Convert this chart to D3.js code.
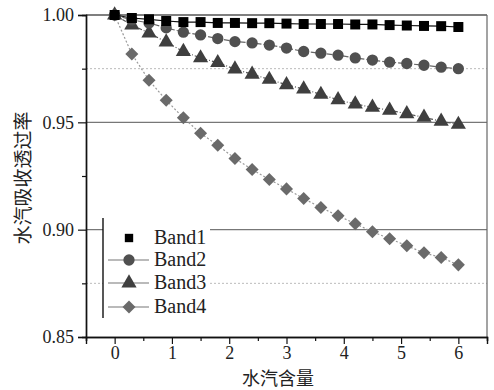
<!DOCTYPE html>
<html>
<head>
<meta charset="utf-8">
<script src="https://cdn.jsdelivr.net/npm/d3@7"></script>
<style>
	body { margin: 0; background: #fff; }
	svg { display: block; }
	.tick text, .legend-text { font-family: "Liberation Serif", "Times New Roman", "DejaVu Serif", serif; fill: #222; }
	.tick text { font-size: 18px; }
	.legend-text { font-size: 20px; }
</style>
</head>
<body>
<svg id="chart" width="494" height="390"></svg>
<script>
// water vapour content, 0 .. 6 step 0.3
var vapour = [0, 0.3, 0.6, 0.9, 1.2, 1.5, 1.8, 2.1, 2.4, 2.7, 3.0, 3.3, 3.6, 3.9, 4.2, 4.5, 4.8, 5.1, 5.4, 5.7, 6.0];

var band1 = [1.0, 0.9986, 0.998, 0.9972, 0.9967, 0.9967, 0.9963, 0.9963, 0.9962, 0.9962, 0.996, 0.9958, 0.9958, 0.9958, 0.9956, 0.9956, 0.9953, 0.9951, 0.9949, 0.9948, 0.9944];
var band2 = [1.0, 0.9977, 0.9963, 0.994, 0.992, 0.9907, 0.989, 0.9876, 0.987, 0.986, 0.9846, 0.983, 0.9822, 0.9813, 0.980, 0.979, 0.978, 0.9774, 0.9766, 0.9757, 0.975];
var band3 = [1.0, 0.9953, 0.9916, 0.9874, 0.983, 0.980, 0.9778, 0.9748, 0.9724, 0.970, 0.9675, 0.9655, 0.963, 0.9605, 0.9585, 0.957, 0.9556, 0.954, 0.9523, 0.9505, 0.949];
var band4 = [1.0, 0.9818, 0.9696, 0.9603, 0.9521, 0.9449, 0.9393, 0.9332, 0.928, 0.9234, 0.919, 0.9145, 0.9103, 0.9065, 0.9028, 0.899, 0.8958, 0.8925, 0.8892, 0.887, 0.8836];

var bandNames = ["Band1", "Band2", "Band3", "Band4"];
var xTicks = [0, 1, 2, 3, 4, 5, 6];
var yTicks = [0.85, 0.90, 0.95, 1.00];
var yMinor = [0.875, 0.925, 0.975];
var xTitle = "水汽含量";
var yTitle = "水汽吸收透过率";

(function(){

	var svg = d3.select("#chart");
	var pLeft = 86, pRight = 487, pTop = 15, pBottom = 337;

	var x = d3.scaleLinear().domain([-0.5, 6.5]).range([pLeft, pRight]);
	var y = d3.scaleLinear().domain([0.85, 1.00]).range([pBottom, pTop]);

	// grid lines
	svg.selectAll(".grid-major")
		.data([0.90, 0.95])
		.enter().append("line")
		.attr("x1", pLeft).attr("x2", pRight)
		.attr("y1", y).attr("y2", y)
		.attr("stroke", "#777").attr("stroke-width", 1.4);

	svg.selectAll(".grid-minor")
		.data([0.875, 0.975])
		.enter().append("line")
		.attr("x1", pLeft).attr("x2", pRight)
		.attr("y1", y).attr("y2", y)
		.attr("stroke", "#bbb").attr("stroke-width", 1)
		.attr("stroke-dasharray", "2,2");

	// frame (top + right)
	svg.append("line").attr("x1", pLeft).attr("x2", pRight).attr("y1", pTop).attr("y2", pTop)
		.attr("stroke", "#555").attr("stroke-width", 1.4);
	svg.append("line").attr("x1", pRight).attr("x2", pRight).attr("y1", pTop).attr("y2", pBottom)
		.attr("stroke", "#666").attr("stroke-width", 1.2);

	// axes
	svg.append("g")
		.attr("transform", "translate(0," + pBottom + ")")
		.call(d3.axisBottom(x).tickValues(xTicks).tickFormat(d3.format("d")).tickSize(7).tickPadding(2));
	svg.append("g")
		.attr("transform", "translate(0," + pBottom + ")")
		.call(d3.axisBottom(x).tickValues(d3.range(-0.5, 6.6, 1)).tickFormat("").tickSize(4));

	svg.append("g")
		.attr("transform", "translate(" + pLeft + ",0)")
		.call(d3.axisLeft(y).tickValues(yTicks).tickFormat(d3.format(".2f")).tickSize(8).tickPadding(4));
	svg.append("g")
		.attr("transform", "translate(" + pLeft + ",0)")
		.call(d3.axisLeft(y).tickValues(yMinor).tickFormat("").tickSize(4));

	svg.selectAll(".domain").attr("stroke", "#111").attr("stroke-width", 1.4);
	svg.selectAll(".tick line").attr("stroke", "#111").attr("stroke-width", 1.2);

	// series
	var series = [
		{ name: bandNames[0], values: band1, shape: d3.symbolSquare, size: 100, rot: 0, fill: "#000", line: "#111", dash: null },
		{ name: bandNames[1], values: band2, shape: d3.symbolCircle, size: 100, rot: 0, fill: "#505050", line: "#666", dash: "6,2" },
		{ name: bandNames[2], values: band3, shape: d3.symbolTriangle, size: 100, rot: 0, fill: "#3f3f3f", line: "#555", dash: "4,2,1,2" },
		{ name: bandNames[3], values: band4, shape: d3.symbolSquare, size: 85, rot: 45, fill: "#6a6a6a", line: "#999", dash: "2,2" }
	];

	var line = d3.line()
		.x(function(d, i){ return x(vapour[i]); })
		.y(function(d){ return y(d); });

	var plot = svg.append("g");

	series.slice().reverse().forEach(function(s){
		plot.append("path")
			.attr("d", line(s.values))
			.attr("fill", "none")
			.attr("stroke", s.line)
			.attr("stroke-width", 1.2)
			.attr("stroke-dasharray", s.dash);

		plot.selectAll(null)
			.data(s.values)
			.enter().append("path")
			.attr("transform", function(d, i){
				return "translate(" + x(vapour[i]) + "," + y(d) + ") rotate(" + s.rot + ")";
			})
			.attr("d", d3.symbol().type(s.shape).size(s.size))
			.attr("fill", s.fill);
	});

	// legend
	var legend = svg.append("g");
	legend.append("rect")
		.attr("x", 103).attr("y", 218).attr("width", 107).attr("height", 100)
		.attr("fill", "#fff");
	legend.append("line")
		.attr("x1", 103).attr("x2", 103).attr("y1", 218).attr("y2", 318)
		.attr("stroke", "#111").attr("stroke-width", 1.4);

	var rows = [238, 260, 283, 307];
	series.forEach(function(s, i){
		var g = legend.append("g").attr("transform", "translate(0," + rows[i] + ")");
		if (i > 0) {
			g.append("line").attr("x1", 108).attr("x2", 149)
				.attr("stroke", "#777").attr("stroke-width", 1.2);
		}
		g.append("path")
			.attr("transform", "translate(129,0) rotate(" + s.rot + ")")
			.attr("d", d3.symbol().type(s.shape).size(i == 0 ? 70 : s.size))
			.attr("fill", s.fill);
		g.append("text")
			.attr("class", "legend-text")
			.attr("x", 154).attr("y", 6)
			.text(s.name);
	});

	// titles
	svg.append("text")
		.attr("x", 278).attr("y", 385)
		.attr("text-anchor", "middle")
		.style("font-family", "'Noto Sans CJK SC', sans-serif")
		.style("font-size", "18px")
		.attr("fill", "#222")
		.text(xTitle);

	svg.append("text")
		.attr("transform", "translate(30,178) rotate(-90)")
		.attr("text-anchor", "middle")
		.style("font-family", "'Noto Sans CJK SC', sans-serif")
		.style("font-size", "19px")
		.attr("fill", "#222")
		.text(yTitle);

})();
</script>
</body>
</html>
